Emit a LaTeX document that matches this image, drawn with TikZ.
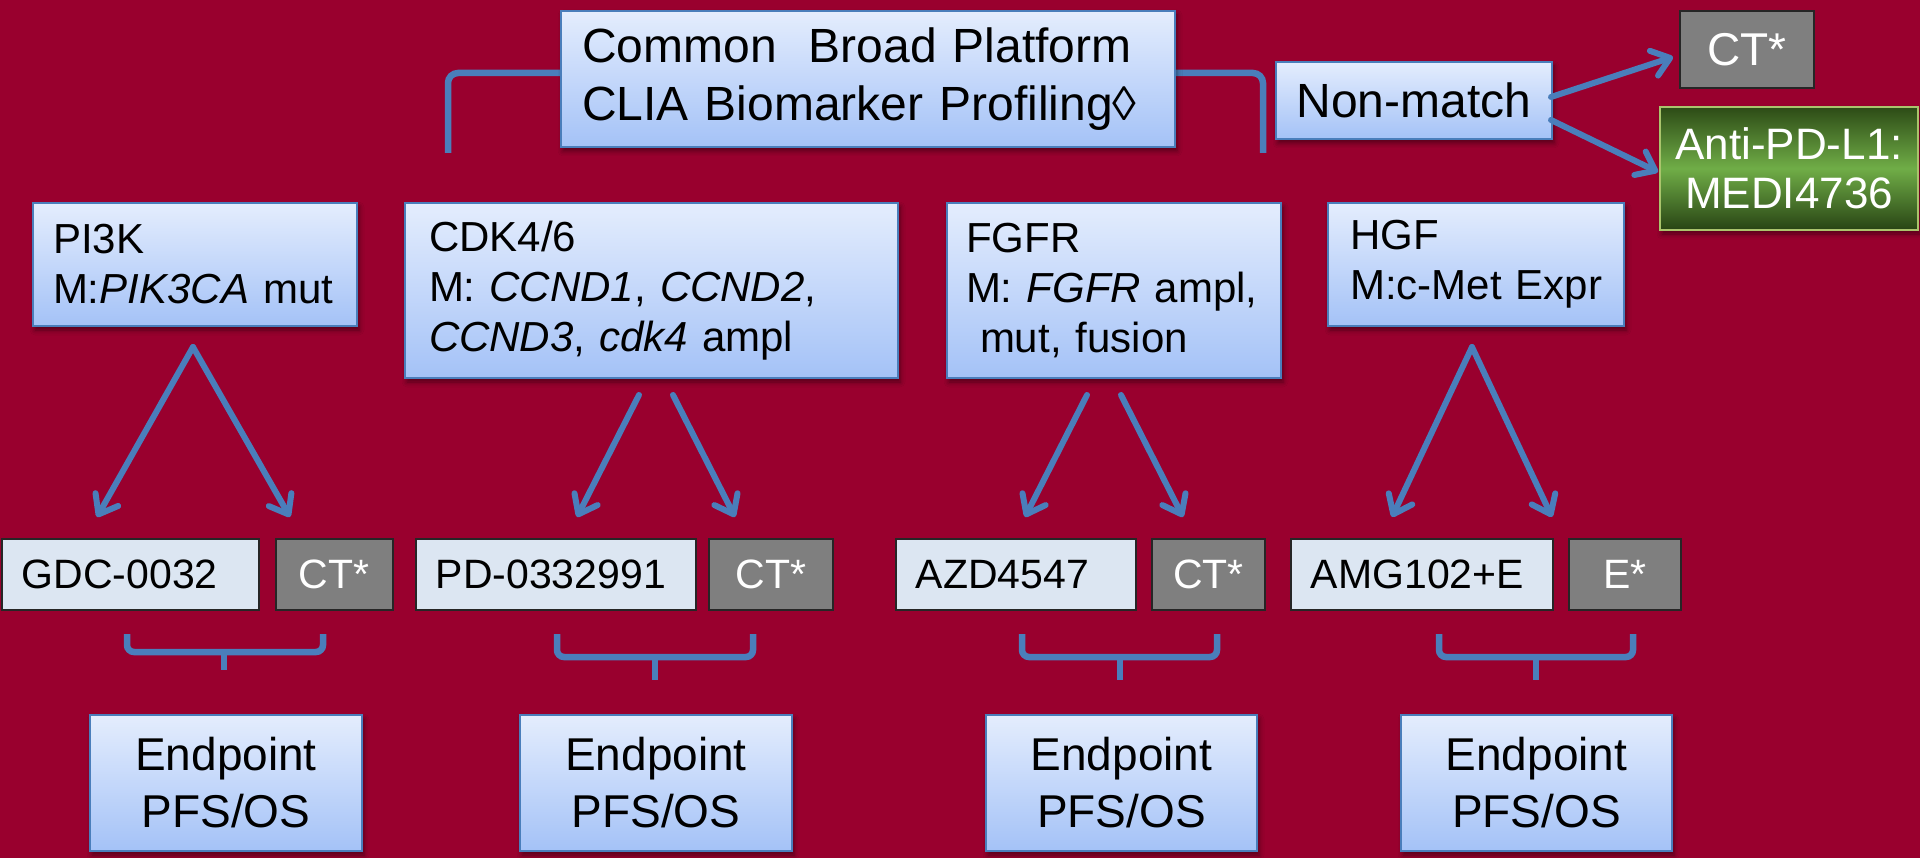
\documentclass[tikz,border=0pt]{standalone}
\usepackage{fontspec}
\setmainfont{Liberation Sans}
\usetikzlibrary{arrows.meta,shadows.blur}

\definecolor{slide}{RGB}{153,0,46}
\definecolor{boxtop}{RGB}{228,237,253}
\definecolor{boxbot}{RGB}{164,194,247}
\definecolor{boxedge}{RGB}{74,126,187}
\definecolor{link}{RGB}{74,126,187}
\definecolor{drug}{RGB}{220,230,242}
\definecolor{ctrl}{RGB}{127,127,127}
\definecolor{gtop}{RGB}{45,75,22}
\definecolor{gmid}{RGB}{112,173,71}
\definecolor{gbot}{RGB}{40,68,20}
\definecolor{gedge}{RGB}{170,196,108}

\tikzset{
  % fixed-size box: width, height, side padding
  boxsize/.style n args={3}{anchor=north west, inner ysep=0pt,
    minimum height=#2pt, inner xsep=#3pt, text width=#1pt-2*#3pt},
  softshadow/.style={blur shadow={shadow xshift=2pt, shadow yshift=-4pt,
    shadow blur radius=5pt, shadow opacity=45}},
  bluebox/.style={draw=boxedge, line width=2pt, top color=boxtop,
    bottom color=boxbot, text=black, softshadow},
  armbox/.style={draw=black!85, line width=1.6pt, fill=drug, text=black,
    align=left, font=\fontsize{41}{49}\selectfont},
  ctrlbox/.style={draw=black!85, line width=1.6pt, fill=ctrl, text=white,
    align=center, font=\fontsize{41}{49}\selectfont},
  catfont/.style={align=left, font=\fontsize{42}{50}\selectfont},
  endfont/.style={align=center, font=\fontsize{46}{57}\selectfont},
  flow/.style={draw=link, line width=6pt, line cap=round,
    -{Straight Barb[length=17pt,width=26pt,round]}},
  bracket/.style={draw=link, line width=6.5pt, rounded corners=7pt}
}

\begin{document}
\begin{tikzpicture}[x=1pt,y=-1pt]
\fill[slide] (0,0) rectangle (1920,858);
\useasboundingbox (0,0) rectangle (1920,858);

% bracket hanging from the profiling box
\coordinate (brL) at (448,153);
\coordinate (brR) at (1263,153);
\draw[bracket, rounded corners=10pt] (brL) -- (448,73) -- (1263,73) -- (brR);

% profiling platform
\node[bluebox, boxsize={614}{136}{21}, align=left,
      font=\fontsize{48}{58}\selectfont] (plat) at (560,10)
  {Common\ \ Broad Platform\\CLIA Biomarker Profiling◊};

% non-matched patients
\node[bluebox, boxsize={276}{77}{10}, align=center,
      font=\fontsize{48}{58}\selectfont] (nm) at (1275,61) {Non-match};
\node[draw=black!85, line width=1.6pt, fill=ctrl, text=white,
      boxsize={134}{77}{8}, align=center,
      font=\fontsize{46}{55}\selectfont] (ctTop) at (1679,10) {CT*};
\node[draw=gedge, line width=2pt, top color=gtop, bottom color=gbot,
      middle color=gmid, text=white, softshadow,
      boxsize={258}{123}{8}, align=center,
      font=\fontsize{44}{49}\selectfont] (pdl) at (1659,106)
  {Anti-PD-L1:\\MEDI4736};

\coordinate (nmUp) at (1551,97);
\coordinate (nmDn) at (1551,120);
\coordinate (ctTip) at (1673,57);
\coordinate (pdlTip) at (1658,172);
\draw[flow] (nmUp) -- (ctTip);
\draw[flow] (nmDn) -- (pdlTip);

% pathway / marker boxes
\node[bluebox, catfont, boxsize={324}{123}{20}] (pi3k) at (32,202)
  {PI3K\\\mbox{M:\textit{PIK3CA} mut}};
\node[bluebox, catfont, boxsize={493}{175}{24}] (cdk) at (404,202)
  {CDK4/6\\\mbox{M: \textit{CCND1}, \textit{CCND2},}\\\mbox{\textit{CCND3}, \textit{cdk4} ampl}};
\node[bluebox, catfont, boxsize={334}{175}{19}] (fgfr) at (946,202)
  {FGFR\\\mbox{M: \textit{FGFR} ampl,}\\\mbox{\ mut, fusion}};
\node[bluebox, catfont, boxsize={296}{123}{22}] (hgf) at (1327,202)
  {HGF\\\mbox{M:c-Met Expr}};

% treatment arms
\node[armbox, boxsize={257}{71}{20}] (gdc) at (1,538) {GDC-0032};
\node[ctrlbox, boxsize={117}{71}{6}] (ct1) at (275,538) {CT*};
\node[armbox, boxsize={280}{71}{20}] (pd) at (415,538) {PD-0332991};
\node[ctrlbox, boxsize={124}{71}{6}] (ct2) at (708,538) {CT*};
\node[armbox, boxsize={240}{71}{20}] (azd) at (895,538) {AZD4547};
\node[ctrlbox, boxsize={113}{71}{6}] (ct3) at (1151,538) {CT*};
\node[armbox, boxsize={262}{71}{20}] (amg) at (1290,538) {AMG102+E};
\node[ctrlbox, boxsize={112}{71}{6}] (e4) at (1568,538) {E*};

% randomisation arrows
\coordinate (pApex) at (193,347);
\coordinate (pL) at (97,517);
\coordinate (pR) at (290,517);
\draw[flow] (pApex) -- (pL);
\draw[flow] (pApex) -- (pR);

\coordinate (cLs) at (639,395);
\coordinate (cL) at (577,517);
\coordinate (cRs) at (673,395);
\coordinate (cR) at (735,517);
\draw[flow] (cLs) -- (cL);
\draw[flow] (cRs) -- (cR);

\coordinate (fLs) at (1087,395);
\coordinate (fL) at (1025,517);
\coordinate (fRs) at (1121,395);
\coordinate (fR) at (1183,517);
\draw[flow] (fLs) -- (fL);
\draw[flow] (fRs) -- (fR);

\coordinate (hApex) at (1472,347);
\coordinate (hL) at (1392,517);
\coordinate (hR) at (1552,517);
\draw[flow] (hApex) -- (hL);
\draw[flow] (hApex) -- (hR);

% braces gathering each pair of arms
\draw[bracket] (127,634) -- (127,652) -- (323,652) -- (323,634);
\draw[bracket, rounded corners=0pt] (224,652) -- (224,670);
\draw[bracket] (557,634) -- (557,657) -- (753,657) -- (753,634);
\draw[bracket, rounded corners=0pt] (655,657) -- (655,680);
\draw[bracket] (1022,634) -- (1022,657) -- (1217,657) -- (1217,634);
\draw[bracket, rounded corners=0pt] (1120,657) -- (1120,680);
\draw[bracket] (1439,634) -- (1439,657) -- (1633,657) -- (1633,634);
\draw[bracket, rounded corners=0pt] (1536,657) -- (1536,680);

% endpoints
\node[bluebox, endfont, boxsize={272}{136}{8}] (ep1) at (89,714) {Endpoint\\PFS/OS};
\node[bluebox, endfont, boxsize={272}{136}{8}] (ep2) at (519,714) {Endpoint\\PFS/OS};
\node[bluebox, endfont, boxsize={271}{136}{8}] (ep3) at (985,714) {Endpoint\\PFS/OS};
\node[bluebox, endfont, boxsize={271}{136}{8}] (ep4) at (1400,714) {Endpoint\\PFS/OS};
\end{tikzpicture}
\end{document}
